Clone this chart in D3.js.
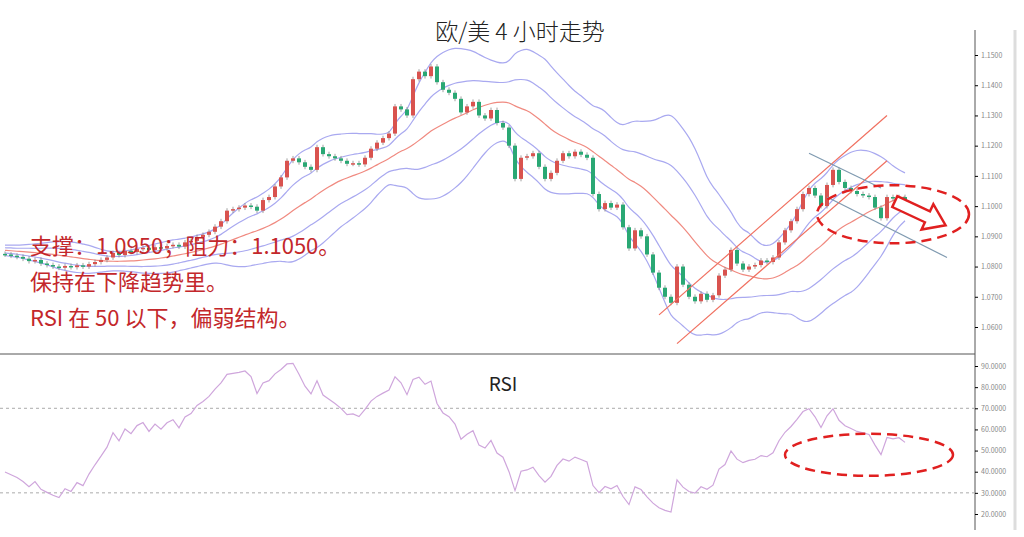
<!DOCTYPE html>
<html lang="zh">
<head>
<meta charset="utf-8">
<title>欧/美 4 小时走势</title>
<script src="https://d3js.org/d3.v7.min.js"></script>
<style>
  body { margin: 0; background: #fff; }
  svg text { font-family: "Noto Sans CJK SC", "DejaVu Sans", sans-serif; }
</style>
</head>
<body>
<svg width="1024" height="537"></svg>
<script>
// Closes before the visible window (only feed the indicators)
const history = [
  1.0872, 1.0860, 1.0866, 1.0850, 1.0858, 1.0845, 1.0852, 1.0838, 1.0846, 1.0855,
  1.0848, 1.0860, 1.0852, 1.0864, 1.0856, 1.0868, 1.0858, 1.0862, 1.0850, 1.0842
];
// Closing prices per 4h candle
const closes = [
  1.0840, 1.0836, 1.0832, 1.0826, 1.0818, 1.0822, 1.0810, 1.0805, 1.0800, 1.0796,
  1.0802, 1.0798, 1.0804, 1.0800, 1.0808, 1.0815, 1.0822, 1.0830, 1.0845, 1.0838,
  1.0852, 1.0848, 1.0858, 1.0862, 1.0855, 1.0864, 1.0860, 1.0868, 1.0872, 1.0866,
  1.0880, 1.0885, 1.0898, 1.0905, 1.0915, 1.0932, 1.0950, 1.0985, 1.0990, 1.0995,
  1.1002, 1.0998, 1.0985, 1.1020, 1.1030, 1.1065, 1.1095, 1.1150, 1.1158, 1.1145,
  1.1130, 1.1120, 1.1195, 1.1172, 1.1165, 1.1158, 1.1150, 1.1140, 1.1142, 1.1138,
  1.1160, 1.1190, 1.1210, 1.1225, 1.1240, 1.1330, 1.1320, 1.1300, 1.1420, 1.1445,
  1.1430, 1.1462, 1.1410, 1.1385, 1.1375, 1.1355, 1.1310, 1.1330, 1.1345, 1.1300,
  1.1290, 1.1318, 1.1275, 1.1260, 1.1200, 1.1090, 1.1160, 1.1165, 1.1175, 1.1130,
  1.1090, 1.1110, 1.1150, 1.1175, 1.1165, 1.1180, 1.1170, 1.1160, 1.1040, 1.0990,
  1.1010, 1.0995, 1.1005, 1.0930, 1.0860, 1.0920, 1.0900, 1.0840, 1.0780, 1.0730,
  1.0700, 1.0680, 1.0800, 1.0740, 1.0700, 1.0685, 1.0710, 1.0690, 1.0705, 1.0770,
  1.0790, 1.0855, 1.0810, 1.0790, 1.0800, 1.0805, 1.0820, 1.0815, 1.0830, 1.0880,
  1.0920, 1.0950, 1.0990, 1.1040, 1.1060, 1.1035, 1.1000, 1.1070, 1.1120, 1.1080,
  1.1060, 1.1050, 1.1040, 1.1035, 1.1030, 1.0995, 1.0960, 1.1030, 1.1025, 1.1030,
  1.1015
];
const priceTicks = [1.06, 1.07, 1.08, 1.09, 1.10, 1.11, 1.12, 1.13, 1.14, 1.15];
const rsiTicks = [20, 30, 40, 50, 60, 70, 80, 90];
const rsiLevels = [30, 70];
// Hand-drawn trend lines as [candle index, price]
const upChannel = [[[109, 1.0640], [147, 1.1300]], [[112, 1.0545], [147, 1.1150]]];
const downChannel = [[[134, 1.1175], [146, 1.1060]], [[137, 1.1030], [157, 1.0830]]];
const notes = ["支撑：1.0950；阻力：1.1050。", "保持在下降趋势里。", "RSI 在 50 以下，偏弱结构。"];

const svg = d3.select("svg");
const n = closes.length;
const all = history.concat(closes);
const h = history.length;
const opens = closes.map((c, i) => all[h + i - 1]);

const x = d3.scaleLinear().domain([0, n - 1]).range([5, 905]);
const y = d3.scaleLinear().domain([1.06, 1.15]).range([327, 55]);
const yr = d3.scaleLinear().domain([20, 90]).range([514, 366]);

// bollinger bands (20, 1 and 2 sd)
const bands = closes.map((c, i) => {
  const win = all.slice(h + i - 19, h + i + 1);
  return { i, m: d3.mean(win), s: d3.deviation(win) };
});
// RSI 14 (Wilder)
let ag = 0, al = 0;
const rsi = [];
all.forEach((c, k) => {
  if (k === 0) return;
  const ch = c - all[k - 1];
  const g = Math.max(ch, 0), l = Math.max(-ch, 0);
  if (k <= 14) { ag += g / 14; al += l / 14; }
  else { ag = (ag * 13 + g) / 14; al = (al * 13 + l) / 14; }
  if (k >= h) rsi.push({ i: k - h, v: 100 - 100 / (1 + ag / al) });
});

// frame
svg.append("line").attr("x1", 975).attr("x2", 975).attr("y1", 30).attr("y2", 530).attr("stroke", "#555");
svg.append("line").attr("x1", 0).attr("x2", 975).attr("y1", 354).attr("y2", 354).attr("stroke", "#555");
svg.append("line").attr("x1", 1015).attr("x2", 1015).attr("y1", 30).attr("y2", 530).attr("stroke", "#ddd").attr("stroke-width", 3);

svg.append("g").attr("transform", "translate(975,0)")
  .call(d3.axisRight(y).tickValues(priceTicks).tickFormat(d3.format(".4f")).tickSize(3))
  .call(g => g.select(".domain").remove())
  .call(g => g.selectAll("text").attr("fill", "#888").attr("font-size", 7));
svg.append("g").attr("transform", "translate(975,0)")
  .call(d3.axisRight(yr).tickValues(rsiTicks).tickFormat(d3.format(".4f")).tickSize(3))
  .call(g => g.select(".domain").remove())
  .call(g => g.selectAll("text").attr("fill", "#888").attr("font-size", 7));

// bands
const bl = (k) => d3.line().x(d => x(d.i)).y(d => y(d.m + k * d.s)).curve(d3.curveBasis);
[2, 1, -1, -2].forEach(k => svg.append("path").datum(bands).attr("d", bl(k))
  .attr("fill", "none").attr("stroke", "#a9a9f0").attr("stroke-width", 1.2));
svg.append("path").datum(bands).attr("d", bl(0))
  .attr("fill", "none").attr("stroke", "#f08a80").attr("stroke-width", 1.2);

// candles
const cg = svg.append("g").selectAll("g").data(closes).join("g");
cg.append("line")
  .attr("x1", (d, i) => x(i)).attr("x2", (d, i) => x(i))
  .attr("y1", (d, i) => y(Math.max(d, opens[i]) + 0.0008))
  .attr("y2", (d, i) => y(Math.min(d, opens[i]) - 0.0008))
  .attr("stroke", "#888").attr("stroke-width", 0.8);
cg.append("rect")
  .attr("x", (d, i) => x(i) - 2).attr("width", 4)
  .attr("y", (d, i) => y(Math.max(d, opens[i])))
  .attr("height", (d, i) => Math.max(1.5, Math.abs(y(d) - y(opens[i]))))
  .attr("fill", (d, i) => d >= opens[i] ? "#d9534f" : "#2aa874");

// trend lines
upChannel.forEach(l => svg.append("line")
  .attr("x1", x(l[0][0])).attr("y1", y(l[0][1])).attr("x2", x(l[1][0])).attr("y2", y(l[1][1]))
  .attr("stroke", "#f07060").attr("stroke-width", 1.2));
downChannel.forEach(l => svg.append("line")
  .attr("x1", x(l[0][0])).attr("y1", y(l[0][1])).attr("x2", x(l[1][0])).attr("y2", y(l[1][1]))
  .attr("stroke", "#7f9ab0").attr("stroke-width", 1.2));

// ellipse + arrow
svg.append("ellipse").attr("cx", x(148)).attr("cy", y(1.0973)).attr("rx", 76).attr("ry", 29)
  .attr("fill", "none").attr("stroke", "#e02020").attr("stroke-width", 2.5).attr("stroke-dasharray", "10,6");
svg.append("path")
  .attr("d", "M0,-6 L36,-6 L36,-14 L56,0 L36,14 L36,6 L0,6 Z")
  .attr("transform", `translate(${x(148.3)},${y(1.1015)}) rotate(25)`)
  .attr("fill", "#fff").attr("stroke", "#e02020").attr("stroke-width", 2.5);

// RSI
rsiLevels.forEach(v => svg.append("line").attr("x1", 0).attr("x2", 975).attr("y1", yr(v)).attr("y2", yr(v))
  .attr("stroke", "#aaa").attr("stroke-dasharray", "3,3"));
svg.append("path").datum(rsi)
  .attr("d", d3.line().x(d => x(d.i)).y(d => yr(Math.max(20, d.v))))
  .attr("fill", "none").attr("stroke", "#cfa6dc").attr("stroke-width", 1.2);
svg.append("ellipse").attr("cx", x(144)).attr("cy", yr(48)).attr("rx", 84).attr("ry", 21)
  .attr("fill", "none").attr("stroke", "#e02020").attr("stroke-width", 2.5).attr("stroke-dasharray", "10,6");
svg.append("text").attr("x", 503).attr("y", 391).attr("text-anchor", "middle")
  .attr("font-size", 19).attr("fill", "#222").text("RSI");

// titles
svg.append("text").attr("x", 520).attr("y", 40).attr("text-anchor", "middle")
  .attr("font-size", 23).attr("font-weight", 300).attr("fill", "#222").text("欧/美 4 小时走势");
svg.selectAll(".note").data(notes).join("text").attr("class", "note")
  .attr("x", 30).attr("y", (d, i) => 254 + i * 36)
  .attr("font-size", 22).attr("fill", "#c3272b")
  .text(d => d);
</script>
</body>
</html>
